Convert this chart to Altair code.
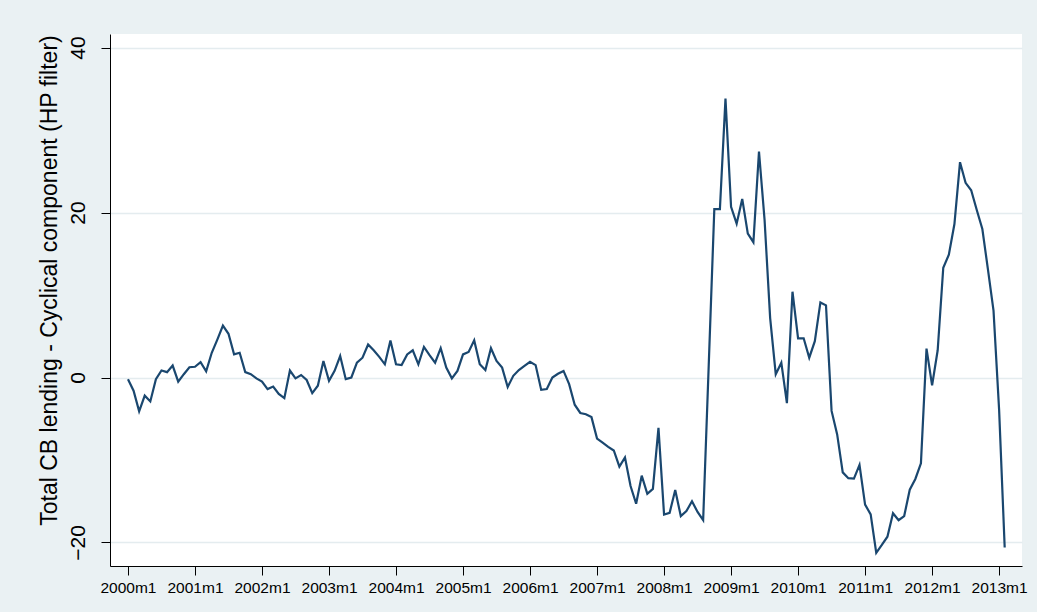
import altair as alt
import pandas as pd

# Cyclical component (HP filter) of total CB lending, monthly 2000m1 - 2013m2
cb_2000 = [-0.2, -1.6, -4.1, -2.2, -2.9, -0.2, 0.85, 0.65, 1.45, -0.5, 0.4, 1.25]
cb_2001 = [1.3, 1.85, 0.75, 3.0, 4.6, 6.3, 5.3, 2.8, 3.0, 0.65, 0.4, -0.1]
cb_2002 = [-0.5, -1.4, -1.1, -2.0, -2.5, 0.85, -0.1, 0.3, -0.3, -1.9, -1.0, 2.0]
cb_2003 = [-0.4, 0.8, 2.6, -0.2, 0.0, 1.8, 2.4, 4.0, 3.3, 2.5, 1.6, 4.5]
cb_2004 = [1.6, 1.5, 2.8, 3.3, 1.6, 3.7, 2.7, 1.8, 3.55, 1.2, -0.1, 0.8]
cb_2005 = [2.8, 3.1, 4.5, 1.6, 0.9, 3.55, 2.0, 1.2, -1.15, 0.2, 0.9, 1.4]
cb_2006 = [1.9, 1.5, -1.5, -1.4, 0.0, 0.45, 0.8, -0.8, -3.3, -4.3, -4.45, -4.8]
cb_2007 = [-7.4, -7.9, -8.4, -8.85, -10.8, -9.7, -13.15, -15.3, -11.9, -14.1, -13.5, -6.1]
cb_2008 = [-16.6, -16.4, -13.65, -16.8, -16.2, -15.0, -16.3, -17.3, 1.5, 20.4, 20.4, 33.8]
cb_2009 = [20.7, 18.65, 21.65, 17.45, 16.4, 27.4, 19.1, 7.2, 0.4, 1.8, -3.1, 10.4]
cb_2010 = [4.75, 4.75, 2.4, 4.4, 9.1, 8.75, -4.05, -6.9, -11.5, -12.2, -12.25, -10.6]
cb_2011 = [-15.4, -16.6, -21.25, -20.3, -19.3, -16.45, -17.3, -16.8, -13.6, -12.3, -10.4, 3.5]
cb_2012 = [-0.95, 3.3, 13.3, 14.9, 18.6, 26.1, 23.6, 22.7, 20.3, 18.0, 13.1, 8.1]
cb_2013 = [-3.9, -20.6]

values = (cb_2000 + cb_2001 + cb_2002 + cb_2003 + cb_2004 + cb_2005 + cb_2006
          + cb_2007 + cb_2008 + cb_2009 + cb_2010 + cb_2011 + cb_2012 + cb_2013)

month_index = list(range(len(values)))
month_label = [f"{2000 + i // 12}m{i % 12 + 1}" for i in month_index]
x_tick_values = [0, 12, 24, 36, 48, 60, 72, 84, 96, 108, 120, 132, 144, 156]
y_tick_values = [-20, 0, 20, 40]

df = pd.DataFrame({"t": month_index, "label": month_label, "cb": values})

BG = "#EAF1F3"
GRID = "#E4ECEF"
NAVY = "#1A476F"

chart = (
    alt.Chart(df)
    .mark_line(color=NAVY, strokeWidth=2.2, clip=True)
    .encode(
        x=alt.X(
            "t:Q",
            scale=alt.Scale(domain=[-3.22, 160.1], nice=False, zero=False),
            axis=alt.Axis(
                values=x_tick_values,
                labelExpr="(2000 + datum.value / 12) + 'm1'",
                title=None,
                grid=False,
                tickSize=9,
                tickColor="#000000",
                domainColor="#000000",
                labelFontSize=15.5,
                labelColor="#000000",
                labelFont="Liberation Sans",
                labelPadding=5,
                labelFlush=False,
                labelOverlap=False,
            ),
        ),
        y=alt.Y(
            "cb:Q",
            scale=alt.Scale(domain=[-22.85, 41.64], nice=False, zero=False),
            axis=alt.Axis(
                values=y_tick_values,
                title="Total CB lending - Cyclical component (HP filter)",
                grid=True,
                gridColor=GRID,
                gridWidth=1.6,
                tickSize=9,
                tickColor="#000000",
                domainColor="#000000",
                labelFontSize=21,
                labelColor="#000000",
                labelFont="Liberation Sans",
                labelAngle=270,
                labelAlign="center",
                labelBaseline="alphabetic",
                labelPadding=17,
                labelFlush=False,
                labelOverlap=False,
                titleFont="Liberation Sans",
                titleFontSize=23,
                titleFontWeight="normal",
                titleColor="#000000",
                titleAngle=270,
                titleAlign="center",
                titleBaseline="alphabetic",
                titleX=-54,
                titleY=246,
            ),
        ),
    )
    .properties(
        width=912,
        height=532,
        background=BG,
        padding={"left": 110, "top": 34, "right": 15, "bottom": 46},
        autosize=alt.AutoSizeParams(type="none"),
    )
    .configure_view(fill="#FFFFFF", stroke=None)
)

chart.save("out.html", embed_options={"renderer": "svg", "actions": False})
